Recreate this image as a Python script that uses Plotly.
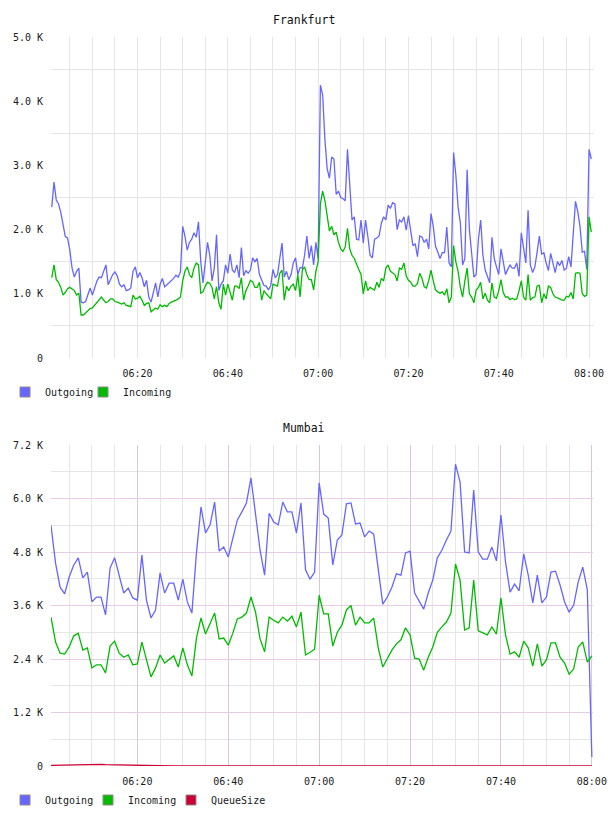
import numpy as np
import pandas as pd
import plotly.graph_objects as go

# ---------------- data ----------------
FRA_START = "2024-01-01 06:01:00"
FRA_OUT_K = [
    2.35, 2.74, 2.46, 2.40, 2.27, 2.05, 1.89, 1.87, 1.68, 1.40,
    1.26, 1.35, 1.40, 0.87, 0.86, 0.88, 1.00, 1.09, 0.98, 1.10,
    1.20, 1.26, 1.25, 1.35, 1.45, 1.14, 1.22, 1.30, 1.34, 1.28,
    1.15, 1.11, 1.14, 1.05, 1.06, 1.09, 1.35, 1.42, 1.25, 1.33,
    1.25, 1.11, 1.21, 0.95, 0.87, 1.02, 1.17, 0.95, 1.15, 1.24,
    1.11, 1.14, 1.17, 1.20, 1.24, 1.29, 1.26, 1.34, 2.05, 1.90,
    1.68, 1.80, 1.85, 1.95, 1.88, 2.12, 1.50, 1.17, 1.45, 1.80,
    1.60, 1.20, 1.40, 1.92, 1.05, 1.15, 1.20, 1.45, 1.32, 1.62,
    1.37, 1.33, 1.45, 1.25, 1.72, 1.28, 1.36, 1.32, 1.37, 1.56,
    1.50, 1.55, 1.30, 1.20, 1.13, 1.12, 1.06, 1.13, 1.38, 1.25,
    1.30, 1.55, 1.79, 1.26, 1.35, 1.22, 1.30, 1.48, 1.56, 1.30,
    1.41, 1.40, 1.60, 1.90, 1.55, 1.75, 1.45, 1.80, 1.55, 4.25,
    4.10, 3.40, 2.95, 2.80, 3.13, 3.10, 2.55, 2.60, 2.50, 2.48,
    2.45, 3.25, 2.62, 2.15, 2.20, 1.85, 1.84, 2.15, 1.79, 2.15,
    1.90, 1.60, 1.56, 1.85, 1.87, 1.90, 2.10, 2.20, 2.15, 2.38,
    2.33, 2.42, 2.40, 2.00, 2.15, 2.12, 2.20, 1.99, 2.22, 1.98,
    1.75, 1.78, 1.58, 1.90, 1.88, 1.80, 1.85, 1.70, 2.25, 2.05,
    1.74, 1.65, 1.55, 1.64, 1.64, 2.04, 1.48, 1.42, 3.20, 2.85,
    2.35, 2.10, 1.45, 1.55, 2.93, 2.00, 1.58, 1.26, 1.30, 1.85,
    2.15, 1.60, 1.37, 1.28, 1.17, 1.88, 1.55, 1.42, 1.30, 1.70,
    1.50, 1.30, 1.38, 1.45, 1.40, 1.40, 1.48, 1.27, 1.95, 1.70,
    1.48, 2.30, 1.45, 1.33, 1.42, 1.65, 1.90, 1.62, 1.64, 1.48,
    1.36, 1.63, 1.50, 1.33, 1.50, 1.44, 1.52, 1.37, 1.40, 1.58,
    1.42, 1.95, 2.44, 2.28, 2.05, 1.65, 1.66, 1.38, 3.25, 3.10,
]
FRA_IN_K = [
    1.25, 1.45, 1.22, 1.18, 1.10, 0.98, 1.02, 1.08, 1.10, 1.07,
    1.05, 0.98, 1.01, 0.67, 0.67, 0.70, 0.73, 0.77, 0.78, 0.82,
    0.87, 0.90, 0.95, 0.90, 0.86, 0.88, 0.92, 0.92, 0.88, 0.87,
    0.86, 0.84, 0.86, 0.82, 0.81, 0.80, 0.98, 0.92, 0.93, 0.96,
    0.90, 0.82, 0.85, 0.86, 0.72, 0.75, 0.78, 0.76, 0.83, 0.80,
    0.82, 0.80, 0.85, 0.87, 0.88, 0.90, 0.92, 0.95, 1.20, 1.35,
    1.42, 1.30, 1.25, 1.40, 1.48, 1.45, 1.01, 1.03, 1.12, 1.18,
    1.16, 1.10, 0.92, 1.11, 0.86, 0.76, 1.15, 0.98, 1.15, 1.00,
    0.90, 1.12, 1.12, 1.08, 1.25, 0.90, 1.05, 1.12, 1.21, 1.19,
    1.10, 1.10, 1.18, 0.90, 1.05, 1.00, 0.95, 0.92, 1.15, 1.13,
    1.12, 1.32, 1.37, 0.90, 1.12, 1.05, 1.12, 1.15, 1.05, 1.30,
    0.95, 1.37, 1.42, 1.30, 1.22, 1.22, 1.06, 1.35, 1.50, 2.40,
    2.60, 2.45, 2.18, 1.98, 2.05, 1.92, 1.96, 1.80, 1.70, 1.66,
    1.73, 2.02, 1.70, 1.60, 1.55, 1.45, 1.38, 1.30, 1.00, 1.20,
    1.05, 1.10, 1.08, 1.06, 1.18, 1.10, 1.24, 1.20, 1.40, 1.45,
    1.35, 1.32, 1.30, 1.20, 1.40, 1.38, 1.48, 1.28, 1.21, 1.18,
    1.12, 1.12, 1.16, 1.32, 1.24, 1.11, 1.09, 1.21, 1.37, 1.20,
    1.06, 1.03, 1.01, 1.03, 0.98, 1.08, 0.86, 0.95, 1.75, 1.50,
    1.35, 1.10, 0.95, 1.20, 1.40, 1.00, 0.95, 0.86, 1.06, 1.10,
    1.18, 0.92, 1.01, 0.90, 0.86, 1.17, 0.95, 0.93, 1.05, 1.22,
    1.02, 0.95, 0.95, 0.91, 0.93, 0.91, 0.92, 1.05, 1.20, 0.95,
    0.90, 1.30, 0.90, 0.94, 0.95, 1.12, 1.13, 0.86, 1.00, 0.92,
    1.12, 1.10, 1.00, 0.95, 0.94, 0.92, 0.90, 0.90, 0.96, 0.95,
    1.02, 0.92, 1.32, 1.33, 1.32, 1.00, 0.96, 0.98, 2.20, 1.96,
]

MUM_START = "2024-01-01 06:01:00"
MUM_OUT_K = [
    5.40, 4.55, 4.01, 3.86, 4.24, 4.51, 4.67, 4.22, 4.35, 3.68,
    3.79, 3.79, 3.39, 4.44, 4.67, 4.24, 3.88, 3.99, 3.77, 3.72,
    4.73, 3.72, 3.32, 3.50, 4.33, 3.88, 4.10, 4.10, 3.72, 4.19,
    3.68, 3.43, 4.78, 5.81, 5.23, 5.41, 5.92, 4.82, 4.91, 4.69,
    5.11, 5.52, 5.70, 5.90, 6.46, 5.67, 4.84, 4.28, 5.67, 5.47,
    5.41, 5.92, 5.70, 5.70, 5.23, 5.90, 4.40, 4.19, 4.35, 6.35,
    5.65, 5.56, 4.51, 5.07, 5.18, 5.88, 5.90, 5.43, 5.45, 5.14,
    5.27, 5.20, 4.44, 3.63, 3.79, 4.01, 4.31, 4.28, 4.78, 4.82,
    3.88, 3.70, 3.52, 3.88, 4.17, 4.67, 4.84, 5.07, 5.27, 6.77,
    6.37, 4.80, 4.78, 6.19, 4.80, 4.64, 4.64, 4.91, 4.60, 5.63,
    4.58, 3.90, 4.08, 3.93, 4.76, 4.28, 3.66, 4.28, 3.66, 3.79,
    4.35, 4.37, 4.06, 3.68, 3.45, 3.61, 4.13, 4.46, 3.95, 0.20,
]
MUM_IN_K = [
    3.34, 2.78, 2.53, 2.51, 2.67, 2.92, 2.98, 2.60, 2.65, 2.20,
    2.27, 2.27, 2.09, 2.69, 2.80, 2.53, 2.44, 2.49, 2.27, 2.29,
    2.78, 2.38, 2.00, 2.20, 2.49, 2.31, 2.40, 2.47, 2.22, 2.65,
    2.27, 2.02, 2.87, 3.32, 2.96, 3.21, 3.43, 2.85, 2.87, 2.71,
    2.98, 3.30, 3.34, 3.43, 3.79, 3.45, 2.85, 2.56, 3.34, 3.27,
    3.21, 3.34, 3.25, 3.36, 3.12, 3.45, 2.49, 2.55, 2.62, 3.83,
    3.41, 3.41, 2.69, 3.00, 3.16, 3.50, 3.60, 3.16, 3.34, 3.21,
    3.21, 3.32, 2.65, 2.22, 2.42, 2.60, 2.74, 2.83, 3.10, 2.94,
    2.42, 2.40, 2.15, 2.44, 2.67, 3.00, 3.12, 3.23, 3.43, 4.53,
    4.17, 3.05, 3.10, 4.17, 3.03, 2.98, 2.94, 3.12, 2.96, 3.77,
    2.94, 2.51, 2.56, 2.44, 2.80, 2.65, 2.24, 2.74, 2.24, 2.38,
    2.76, 2.76, 2.44, 2.31, 2.06, 2.18, 2.67, 2.78, 2.33, 2.47,
]
MUM_QUEUE = [
    15, 18, 20, 22, 25, 25, 28, 30, 30, 32,
    35, 35, 30, 28, 25, 20, 15, 10, 5, 0,
    0, 0, 0, 0, 0, 0, 0, 0, 0, 0,
    0, 0, 0, 0, 0, 0, 0, 0, 0, 0,
    0, 0, 0, 0, 0, 0, 0, 0, 0, 0,
    0, 0, 0, 0, 0, 0, 0, 0, 0, 0,
    0, 5, 10, 12, 8, 0, 0, 0, 0, 0,
    0, 0, 0, 0, 0, 0, 0, 0, 0, 0,
    0, 0, 0, 0, 0, 0, 0, 0, 0, 0,
    0, 0, 0, 0, 0, 0, 0, 0, 0, 0,
    0, 0, 0, 0, 0, 0, 5, 8, 5, 0,
    0, 0, 0, 0, 0, 0, 0, 0, 0, 0,
]

FRA_YTICKS = [0, 1000, 2000, 3000, 4000, 5000]
FRA_YTEXT = ["0", "1.0 K", "2.0 K", "3.0 K", "4.0 K", "5.0 K"]
FRA_YGRID = [500, 1500, 2500, 3500, 4500]
MUM_YTICKS = [0, 1200, 2400, 3600, 4800, 6000, 7200]
MUM_YTEXT = ["0", "1.2 K", "2.4 K", "3.6 K", "4.8 K", "6.0 K", "7.2 K"]
MUM_YMINOR = [600, 1800, 3000, 4200, 5400, 6600]

SERIES_NAMES = ["Outgoing", "Incoming", "QueueSize"]
COLORS = {"Outgoing": "#6666ff", "Incoming": "#00bb00", "QueueSize": "#cc0033"}

# ---------------- build ----------------
fra_t = pd.date_range(FRA_START, periods=len(FRA_OUT_K), freq="30s")
mum_t = pd.date_range(MUM_START, periods=len(MUM_OUT_K), freq="1min")

W, H = 608, 816
FONT = "DejaVu Sans Mono"

def px_x(a, b):
    return [a / W, b / W]

def px_y(top, bottom):
    return [1 - bottom / H, 1 - top / H]

fig = go.Figure()

def line(x, y, name, xa, ya):
    fig.add_trace(go.Scatter(
        x=x, y=y, mode="lines", name=name, showlegend=False,
        line=dict(color=COLORS[name], width=1.3),
        xaxis=xa, yaxis=ya, hoverinfo="skip"))

line(fra_t, np.array(FRA_OUT_K) * 1000, "Outgoing", "x", "y")
line(fra_t, np.array(FRA_IN_K) * 1000, "Incoming", "x", "y")
line(mum_t, np.array(MUM_QUEUE), "QueueSize", "x2", "y2")
line(mum_t, np.array(MUM_OUT_K) * 1000, "Outgoing", "x2", "y2")
line(mum_t, np.array(MUM_IN_K) * 1000, "Incoming", "x2", "y2")

def legend_item(name, legend, xa, ya, color=None, lcolor="#8c8c8c"):
    fig.add_trace(go.Scatter(
        x=[None], y=[None], mode="markers", name=name, legend=legend,
        marker=dict(symbol="square", size=10,
                    color=color if color is not None else COLORS[name],
                    line=dict(color=lcolor, width=1)),
        xaxis=xa, yaxis=ya))

for n in SERIES_NAMES[:2]:
    legend_item(n, "legend", "x", "y")
legend_item(" ", "legend", "x", "y", color="rgba(0,0,0,0)", lcolor="rgba(0,0,0,0)")
for n in SERIES_NAMES:
    legend_item(n, "legend2", "x2", "y2")
legend_item(" ", "legend2", "x2", "y2", color="rgba(0,0,0,0)", lcolor="rgba(0,0,0,0)")

GRID = "#e6e6e6"
PINK = "#e6cce6"
PINK_V = "#dcc6dc"
tickfont = dict(family=FONT, size=10, color="#1a1a1a")

common_x = dict(type="date", tickformat="%H:%M", dtick=1200000,
                ticks="outside", ticklen=6, tickcolor="rgba(0,0,0,0)",
                tickfont=tickfont, showline=False, zeroline=False,
                automargin=False)
common_y = dict(ticks="outside", ticklen=5, tickcolor="rgba(0,0,0,0)",
                tickfont=tickfont, showline=False, zeroline=False,
                automargin=False)

fig.update_layout(
    width=W, height=H, autosize=False,
    margin=dict(l=0, r=0, t=0, b=0, pad=0, autoexpand=False),
    paper_bgcolor="white", plot_bgcolor="white",
    font=dict(family=FONT, size=10, color="#1a1a1a"),
    xaxis=dict(domain=px_x(51, 594),
               range=["2024-01-01 06:00:50", "2024-01-01 08:01:06"],
               showgrid=True, gridcolor=GRID, gridwidth=1,
               minor=dict(dtick=300000, showgrid=True, gridcolor=GRID, gridwidth=1),
               anchor="y", **common_x),
    yaxis=dict(domain=px_y(37, 358), range=[0, 5000],
               tickvals=FRA_YTICKS, ticktext=FRA_YTEXT, showgrid=False,
               minor=dict(tickvals=FRA_YGRID, showgrid=True, gridcolor=GRID, gridwidth=1),
               anchor="x", **common_y),
    xaxis2=dict(domain=px_x(51, 593),
                range=["2024-01-01 06:01:00", "2024-01-01 08:00:15"],
                showgrid=True, gridcolor=PINK_V, gridwidth=1,
                minor=dict(dtick=300000, showgrid=True, gridcolor=GRID, gridwidth=1),
                anchor="y2", **common_x),
    yaxis2=dict(domain=px_y(445, 766), range=[0, 7200],
                tickvals=MUM_YTICKS, ticktext=MUM_YTEXT,
                showgrid=True, gridcolor=PINK, gridwidth=1,
                minor=dict(tickvals=MUM_YMINOR, showgrid=True, gridcolor=GRID, gridwidth=1),
                anchor="x2", **common_y),
    legend=dict(orientation="h", x=5 / W, xanchor="left", y=1 - 392 / H, yanchor="middle",
                font=dict(family=FONT, size=10, color="#1a1a1a"),
                entrywidth=33, entrywidthmode="pixels", itemwidth=30,
                bgcolor="rgba(0,0,0,0)", borderwidth=0),
    legend2=dict(orientation="h", x=5 / W, xanchor="left", y=1 - 800 / H, yanchor="middle",
                 font=dict(family=FONT, size=10, color="#1a1a1a"),
                 entrywidth=38, entrywidthmode="pixels", itemwidth=30,
                 bgcolor="rgba(0,0,0,0)", borderwidth=0),
    annotations=[
        dict(text="Frankfurt", x=0.5, y=1 - 20 / H, xref="paper", yref="paper",
             xanchor="center", yanchor="middle", showarrow=False,
             font=dict(family=FONT, size=11.5, color="#111")),
        dict(text="Mumbai", x=0.5, y=1 - 428 / H, xref="paper", yref="paper",
             xanchor="center", yanchor="middle", showarrow=False,
             font=dict(family=FONT, size=11.5, color="#111")),
    ],
    hovermode=False,
)

fig.write_html("out.html")
